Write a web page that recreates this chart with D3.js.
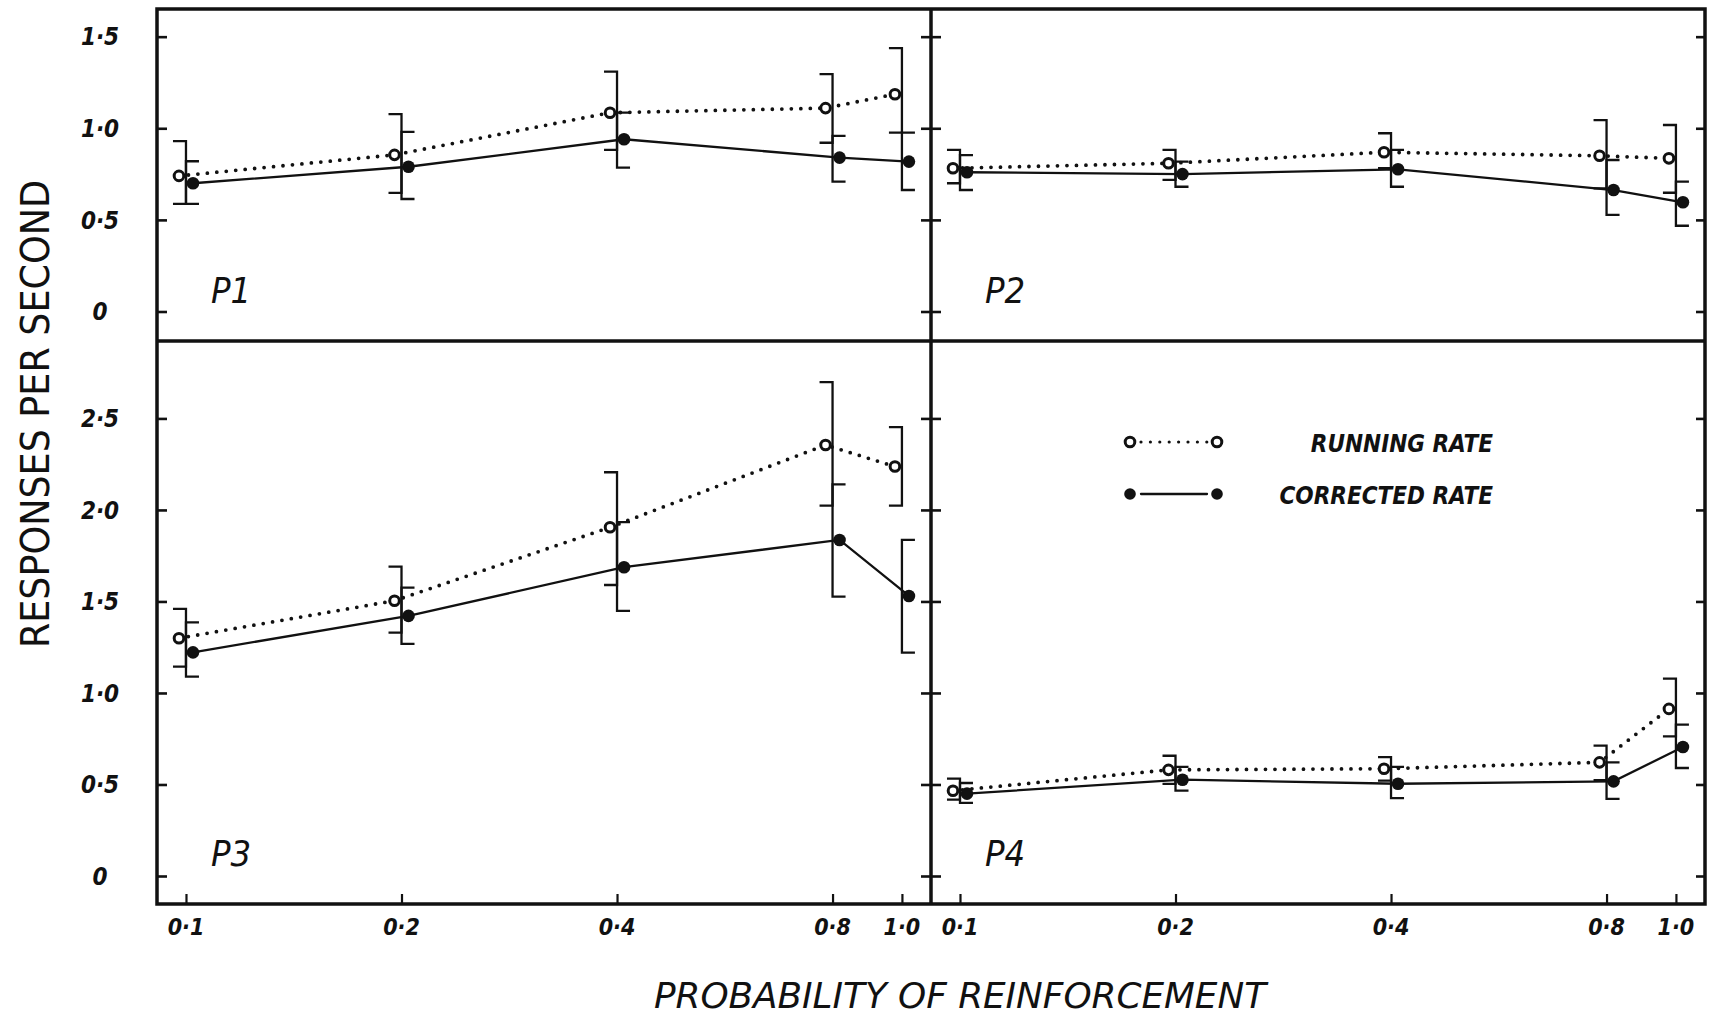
<!DOCTYPE html>
<html>
<head>
<meta charset="utf-8">
<script src="https://cdn.jsdelivr.net/npm/d3@7"></script>
<style>
  body { margin: 0; background: #fff; }
  svg { display: block; }
</style>
</head>
<body>
<svg id="chart" width="1714" height="1019"></svg>
<script>
const probs = [0.1, 0.2, 0.4, 0.8, 1.0];
const probLabels = ['0·1', '0·2', '0·4', '0·8', '1·0'];
const panelNames = ['P1', 'P2', 'P3', 'P4'];
const topTicks = [0, 0.5, 1.0, 1.5];
const topTickLabels = ['0', '0·5', '1·0', '1·5'];
const bottomTicks = [0, 0.5, 1.0, 1.5, 2.0, 2.5];
const bottomTickLabels = ['0', '0·5', '1·0', '1·5', '2·0', '2·5'];
const legendLabels = ['RUNNING RATE', 'CORRECTED RATE'];

// P1
const p1Running = [0.74, 0.855, 1.085, 1.11, 1.186];
const p1RunningErr = [[0.587, 0.93], [0.647, 1.077], [0.882, 1.309], [0.921, 1.296], [0.976, 1.437]];
const p1Corrected = [0.70, 0.79, 0.94, 0.84, 0.818];
const p1CorrectedErr = [[0.587, 0.82], [0.614, 0.98], [0.785, 1.085], [0.709, 0.958], [0.663, 0.976]];
// P2
const p2Running = [0.782, 0.809, 0.869, 0.85, 0.836];
const p2RunningErr = [[0.70, 0.882], [0.718, 0.882], [0.782, 0.973], [0.672, 1.045], [0.648, 1.018]];
const p2Corrected = [0.76, 0.75, 0.776, 0.663, 0.596];
const p2CorrectedErr = [[0.663, 0.854], [0.681, 0.818], [0.681, 0.882], [0.527, 0.827], [0.468, 0.709]];
// P3
const p3Running = [1.299, 1.504, 1.905, 2.355, 2.237];
const p3RunningErr = [[1.144, 1.459], [1.33, 1.69], [1.59, 2.206], [2.024, 2.698], [2.024, 2.452]];
const p3Corrected = [1.222, 1.421, 1.687, 1.836, 1.53];
const p3CorrectedErr = [[1.089, 1.386], [1.268, 1.575], [1.448, 1.933], [1.526, 2.14], [1.22, 1.836]];
// P4
const p4Running = [0.466, 0.58, 0.586, 0.621, 0.913];
const p4RunningErr = [[0.417, 0.532], [0.503, 0.657], [0.521, 0.65], [0.523, 0.712], [0.763, 1.078]];
const p4Corrected = [0.45, 0.526, 0.504, 0.517, 0.705];
const p4CorrectedErr = [[0.399, 0.508], [0.466, 0.596], [0.426, 0.596], [0.421, 0.621], [0.59, 0.827]];

const frame = { left: 157, mid: 931, right: 1705, top: 9, midY: 341, bottom: 904 };
const font = '"Liberation Sans Narrow", "DejaVu Sans Condensed", "Liberation Sans", sans-serif';
const ink = '#111';

const svg = d3.select('#chart');

const xLeft = d3.scaleLog().domain([0.0911, 1.098]).range([frame.left, frame.mid]);
const xRight = d3.scaleLog().domain([0.0911, 1.098]).range([frame.mid, frame.right]);
const yTop = d3.scaleLinear().domain([-0.161, 1.651]).range([frame.midY, frame.top]);
const yBottom = d3.scaleLinear().domain([-0.153, 2.923]).range([frame.bottom, frame.midY]);

const panels = [
  { name: panelNames[0], x: xLeft, y: yTop, run: p1Running, runErr: p1RunningErr, cor: p1Corrected, corErr: p1CorrectedErr },
  { name: panelNames[1], x: xRight, y: yTop, run: p2Running, runErr: p2RunningErr, cor: p2Corrected, corErr: p2CorrectedErr },
  { name: panelNames[2], x: xLeft, y: yBottom, run: p3Running, runErr: p3RunningErr, cor: p3Corrected, corErr: p3CorrectedErr },
  { name: panelNames[3], x: xRight, y: yBottom, run: p4Running, runErr: p4RunningErr, cor: p4Corrected, corErr: p4CorrectedErr }
];

// frame
const fr = svg.append('g').attr('stroke', ink).attr('stroke-width', 3.5).attr('fill', 'none');
fr.append('rect')
  .attr('x', frame.left).attr('y', frame.top)
  .attr('width', frame.right - frame.left).attr('height', frame.bottom - frame.top);
fr.append('line').attr('x1', frame.mid).attr('x2', frame.mid).attr('y1', frame.top).attr('y2', frame.bottom);
fr.append('line').attr('x1', frame.left).attr('x2', frame.right).attr('y1', frame.midY).attr('y2', frame.midY);

// y ticks (inward on outer edges, crossing on the divider)
const tickAxis = (axis, scale, vals, size, tx) => {
  const g = svg.append('g').attr('transform', `translate(${tx},0)`)
    .call(axis(scale).tickValues(vals).tickSize(size).tickSizeOuter(0).tickFormat(''));
  g.select('.domain').remove();
  g.selectAll('line').attr('stroke', ink).attr('stroke-width', 2.6);
};
[[yTop, topTicks], [yBottom, bottomTicks]].forEach(([y, vals]) => {
  tickAxis(d3.axisRight, y, vals, 10, frame.left);
  tickAxis(d3.axisRight, y, vals, 10, frame.mid);
  tickAxis(d3.axisLeft, y, vals, 10, frame.mid);
  tickAxis(d3.axisLeft, y, vals, 9, frame.right);
});

// x ticks on the bottom axis
[xLeft, xRight].forEach(x => {
  const g = svg.append('g').attr('transform', `translate(0,${frame.bottom})`)
    .call(d3.axisTop(x).tickValues(probs).tickSize(10).tickSizeOuter(0).tickFormat(''));
  g.select('.domain').remove();
  g.selectAll('line').attr('stroke', ink).attr('stroke-width', 2.2);

  svg.append('g').selectAll('text')
    .data(probs)
    .join('text')
    .attr('x', d => x(d))
    .attr('y', 935)
    .attr('text-anchor', 'middle')
    .attr('font-family', font)
    .attr('font-size', 23)
    .attr('font-weight', 'bold')
    .attr('font-style', 'italic')
    .attr('fill', ink)
    .text((d, i) => probLabels[i]);
});

// y tick labels
[[yTop, topTicks, topTickLabels], [yBottom, bottomTicks, bottomTickLabels]].forEach(([y, vals, labels]) => {
  svg.append('g').selectAll('text')
    .data(vals)
    .join('text')
    .attr('x', 100)
    .attr('y', d => y(d))
    .attr('dy', '0.36em')
    .attr('text-anchor', 'middle')
    .attr('font-family', font)
    .attr('font-size', 24)
    .attr('font-weight', 'bold')
    .attr('font-style', 'italic')
    .attr('fill', ink)
    .text((d, i) => labels[i]);
});

const offset = 7;   // markers sit either side of the error bar
const cap = 13;

panels.forEach(p => {
  const g = svg.append('g');
  const run = probs.map((d, i) => ({ p: d, v: p.run[i], err: p.runErr[i] }));
  const cor = probs.map((d, i) => ({ p: d, v: p.cor[i], err: p.corErr[i] }));

  // error bars: running caps to the left, corrected caps to the right
  const bars = g.append('g').attr('stroke', ink).attr('stroke-width', 2.3).attr('fill', 'none');
  bars.selectAll('path.run')
    .data(run)
    .join('path').attr('class', 'run')
    .attr('d', d => {
      const x = p.x(d.p), lo = p.y(d.err[0]), hi = p.y(d.err[1]);
      return `M${x - cap},${hi}H${x}V${lo}H${x - cap}`;
    });
  bars.selectAll('path.cor')
    .data(cor)
    .join('path').attr('class', 'cor')
    .attr('d', d => {
      const x = p.x(d.p), lo = p.y(d.err[0]), hi = p.y(d.err[1]);
      return `M${x + cap},${hi}H${x}V${lo}H${x + cap}`;
    });

  const runLine = d3.line().x(d => p.x(d.p) - offset).y(d => p.y(d.v));
  const corLine = d3.line().x(d => p.x(d.p) + offset).y(d => p.y(d.v));

  g.append('path')
    .attr('d', runLine(run))
    .attr('fill', 'none')
    .attr('stroke', ink)
    .attr('stroke-width', 3.8)
    .attr('stroke-linecap', 'round')
    .attr('stroke-dasharray', '0 9.5');
  g.append('path')
    .attr('d', corLine(cor))
    .attr('fill', 'none')
    .attr('stroke', ink)
    .attr('stroke-width', 2.3);

  g.selectAll('circle.run')
    .data(run)
    .join('circle').attr('class', 'run')
    .attr('cx', d => p.x(d.p) - offset)
    .attr('cy', d => p.y(d.v))
    .attr('r', 4.8)
    .attr('fill', '#fff')
    .attr('stroke', ink)
    .attr('stroke-width', 3);
  g.selectAll('circle.cor')
    .data(cor)
    .join('circle').attr('class', 'cor')
    .attr('cx', d => p.x(d.p) + offset)
    .attr('cy', d => p.y(d.v))
    .attr('r', 6.3)
    .attr('fill', ink);

  const [x0] = p.x.range();
  const yBase = p.y.range()[0];
  g.append('text')
    .attr('x', x0 + 54)
    .attr('y', yBase - 38)
    .attr('font-family', font)
    .attr('font-size', 36)
    .attr('font-style', 'italic')
    .attr('fill', ink)
    .text(p.name);
});

// legend
const lg = svg.append('g');
const legendRows = [
  { y: 442, text: legendLabels[0], open: true },
  { y: 494, text: legendLabels[1], open: false }
];
legendRows.forEach(r => {
  lg.append('line')
    .attr('x1', 1141).attr('x2', 1207).attr('y1', r.y).attr('y2', r.y)
    .attr('stroke', ink)
    .attr('stroke-width', r.open ? 3.2 : 2.3)
    .attr('stroke-linecap', 'round')
    .attr('stroke-dasharray', r.open ? '0 9.4' : null);
  [1130, 1217].forEach(cx => {
    lg.append('circle')
      .attr('cx', cx).attr('cy', r.y)
      .attr('r', r.open ? 4.8 : 5.8)
      .attr('fill', r.open ? '#fff' : ink)
      .attr('stroke', r.open ? ink : null)
      .attr('stroke-width', r.open ? 3 : null);
  });
  lg.append('text')
    .attr('x', 1493)
    .attr('y', r.y + 10)
    .attr('text-anchor', 'end')
    .attr('font-family', font)
    .attr('font-size', 24)
    .attr('font-weight', 'bold')
    .attr('font-style', 'italic')
    .attr('fill', ink)
    .text(r.text);
});

// axis titles
svg.append('text')
  .attr('transform', 'translate(49,414) rotate(-90)')
  .attr('text-anchor', 'middle')
  .attr('font-family', font)
  .attr('font-size', 39)
  .attr('textLength', 468)
  .attr('lengthAdjust', 'spacingAndGlyphs')
  .attr('fill', ink)
  .text('RESPONSES PER SECOND');

svg.append('text')
  .attr('x', 960)
  .attr('y', 1008)
  .attr('text-anchor', 'middle')
  .attr('font-family', font)
  .attr('font-size', 36)
  .attr('font-style', 'italic')
  .attr('textLength', 612)
  .attr('lengthAdjust', 'spacingAndGlyphs')
  .attr('fill', ink)
  .text('PROBABILITY OF REINFORCEMENT');
</script>
</body>
</html>
